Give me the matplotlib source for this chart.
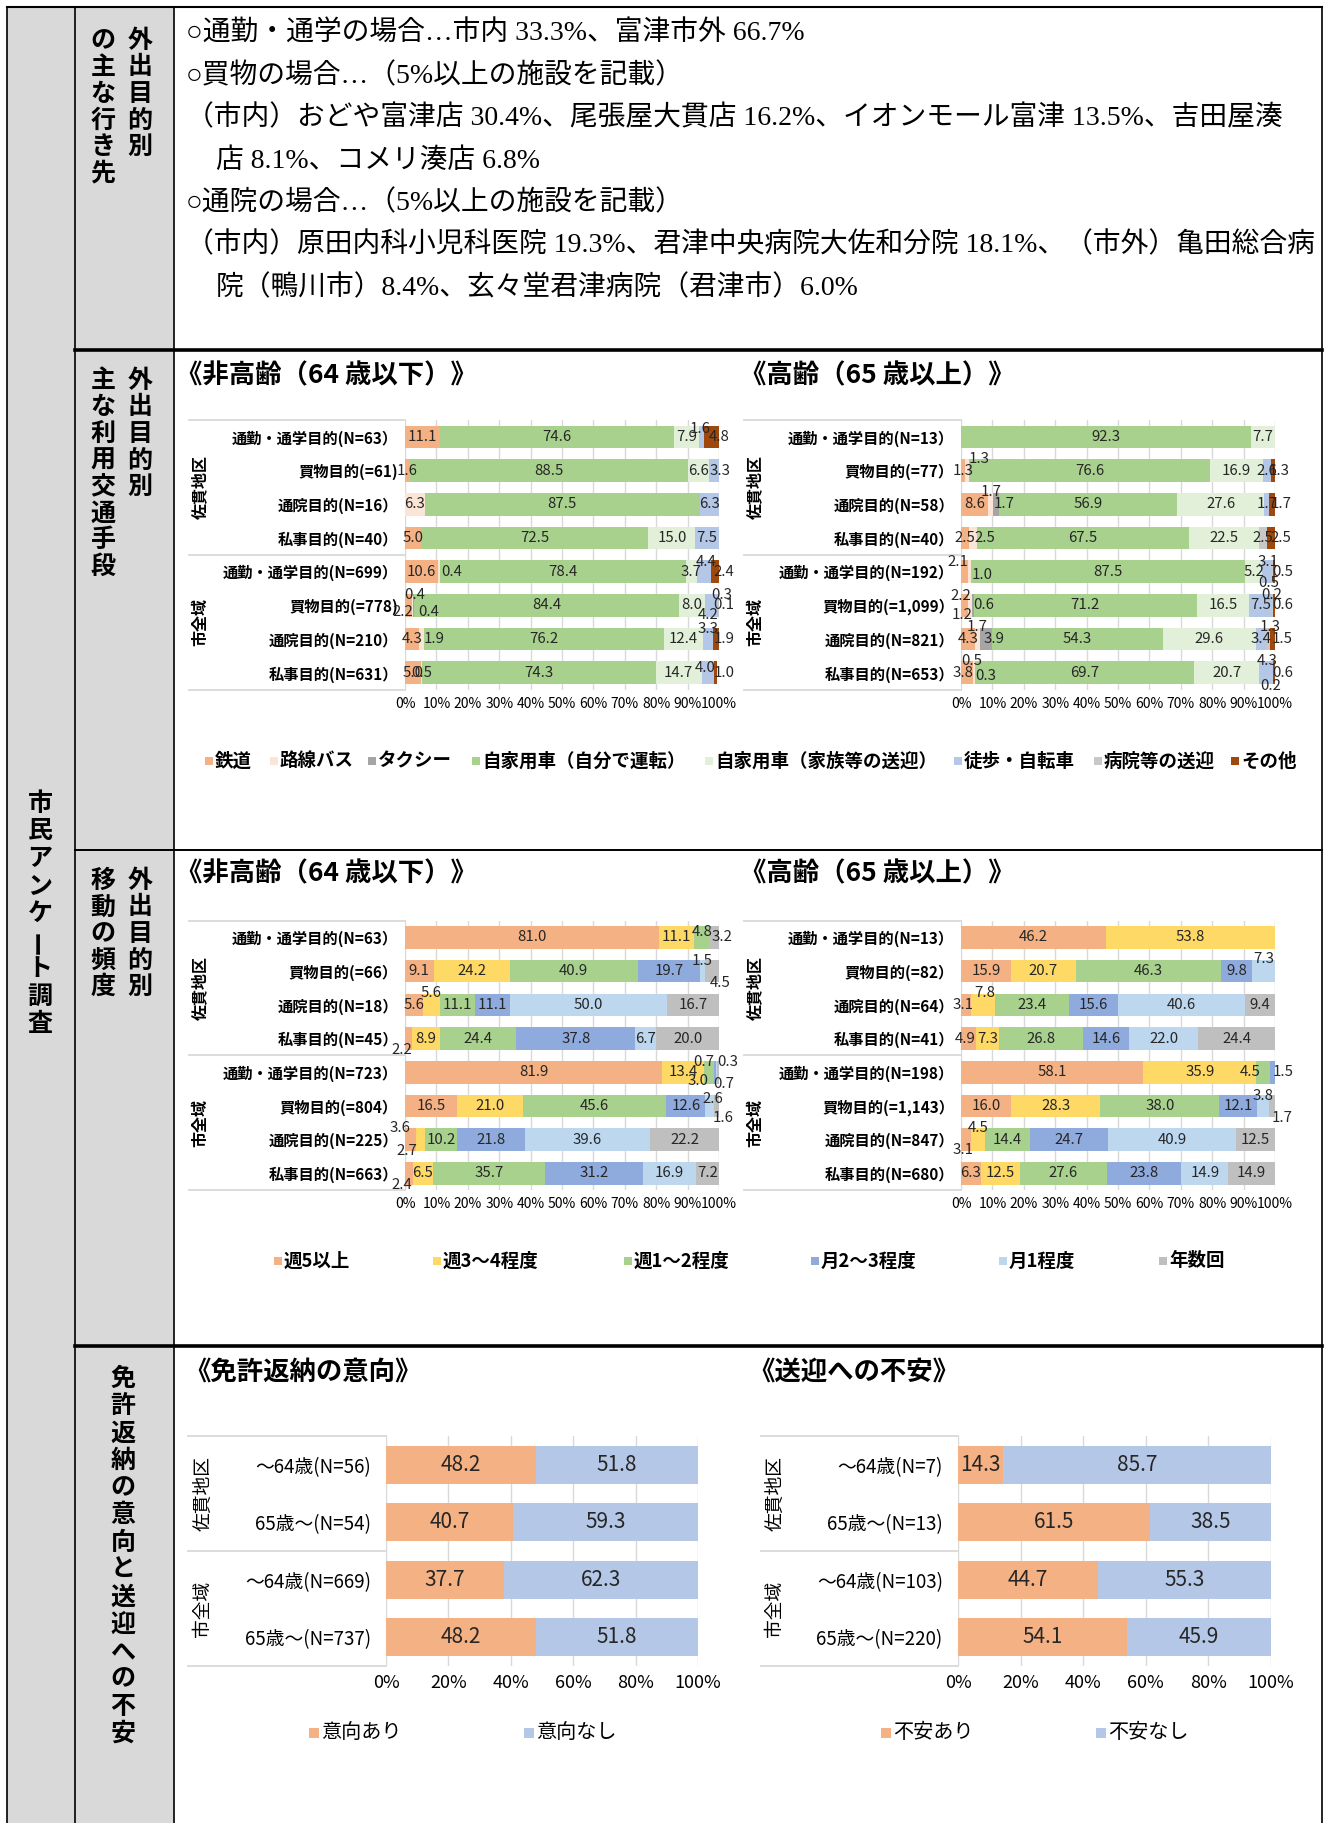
import numpy as np
import matplotlib.pyplot as plt
from matplotlib.patches import Rectangle
from matplotlib.transforms import blended_transform_factory

W, H = 1329, 1823
JP = ['Noto Sans CJK JP', 'DejaVu Sans']
SERIF = ['Liberation Serif', 'Noto Sans CJK JP']
plt.rcParams['font.family'] = JP

# ---------------- data ----------------
dest_lines = [
    '○通勤・通学の場合…市内 33.3%、富津市外 66.7%',
    '○買物の場合…（5%以上の施設を記載）',
    '（市内）おどや富津店 30.4%、尾張屋大貫店 16.2%、イオンモール富津 13.5%、吉田屋湊',
    '店 8.1%、コメリ湊店 6.8%',
    '○通院の場合…（5%以上の施設を記載）',
    '（市内）原田内科小児科医院 19.3%、君津中央病院大佐和分院 18.1%、（市外）亀田総合病',
    '院（鴨川市）8.4%、玄々堂君津病院（君津市）6.0%',
]
dest_indent = [0, 0, 0, 1, 0, 0, 1]

groups = ['佐貫地区', '市全域']

tr_cats = ['鉄道', '路線バス', 'タクシー', '自家用車（自分で運転）', '自家用車（家族等の送迎）',
           '徒歩・自転車', '病院等の送迎', 'その他']
tr_colors = ['#F4B183', '#FBE5D6', '#A5A5A5', '#A9D18E', '#E2F0D9', '#B4C7E7', '#C8C8C8', '#9E480E']

tr_young_labels = ['通勤・通学目的(N=63）', '買物目的(=61)', '通院目的(N=16）', '私事目的(N=40）',
                   '通勤・通学目的(N=699）', '買物目的(=778)', '通院目的(N=210）', '私事目的(N=631）']
tr_young = [
    [11.1, 0, 0, 74.6, 7.9, 1.6, 0, 4.8],
    [1.6, 0, 0, 88.5, 6.6, 3.3, 0, 0],
    [0, 6.3, 0, 87.5, 0, 6.3, 0, 0],
    [5.0, 0, 0, 72.5, 15.0, 7.5, 0, 0],
    [10.6, 0.4, 0, 78.4, 3.7, 4.4, 0, 2.4],
    [2.2, 0.4, 0.4, 84.4, 8.0, 4.2, 0.3, 0.1],
    [4.3, 1.9, 0, 76.2, 12.4, 3.3, 0, 1.9],
    [5.0, 0.5, 0, 74.3, 14.7, 4.0, 0, 1.0],
]
tr_old_labels = ['通勤・通学目的(N=13）', '買物目的(=77）', '通院目的(N=58）', '私事目的(N=40）',
                 '通勤・通学目的(N=192）', '買物目的(=1,099）', '通院目的(N=821）', '私事目的(N=653）']
tr_old = [
    [0, 0, 0, 92.3, 7.7, 0, 0, 0],
    [1.3, 1.3, 0, 76.6, 16.9, 2.6, 0, 1.3],
    [8.6, 1.7, 1.7, 56.9, 27.6, 1.7, 0, 1.7],
    [2.5, 2.5, 0, 67.5, 22.5, 0, 2.5, 2.5],
    [2.1, 1.0, 0, 87.5, 5.2, 3.1, 0.5, 0.5],
    [2.2, 1.2, 0.6, 71.2, 16.5, 7.5, 0.2, 0.6],
    [4.3, 1.7, 3.9, 54.3, 29.6, 3.4, 1.3, 1.5],
    [3.8, 0.5, 0.3, 69.7, 20.7, 4.3, 0.2, 0.6],
]

fq_cats = ['週5以上', '週3～4程度', '週1～2程度', '月2～3程度', '月1程度', '年数回']
fq_colors = ['#F4B183', '#FFD966', '#A9D18E', '#8FAADC', '#BDD7EE', '#BFBFBF']

fq_young_labels = ['通勤・通学目的(N=63）', '買物目的(=66）', '通院目的(N=18）', '私事目的(N=45）',
                   '通勤・通学目的(N=723）', '買物目的(=804）', '通院目的(N=225）', '私事目的(N=663）']
fq_young = [
    [81.0, 11.1, 4.8, 0, 0, 3.2],
    [9.1, 24.2, 40.9, 19.7, 1.5, 4.5],
    [5.6, 5.6, 11.1, 11.1, 50.0, 16.7],
    [2.2, 8.9, 24.4, 37.8, 6.7, 20.0],
    [81.9, 13.4, 3.0, 0.7, 0.3, 0.7],
    [16.5, 21.0, 45.6, 12.6, 2.6, 1.6],
    [3.6, 2.7, 10.2, 21.8, 39.6, 22.2],
    [2.4, 6.5, 35.7, 31.2, 16.9, 7.2],
]
fq_old_labels = ['通勤・通学目的(N=13）', '買物目的(=82）', '通院目的(N=64）', '私事目的(N=41）',
                 '通勤・通学目的(N=198）', '買物目的(=1,143）', '通院目的(N=847）', '私事目的(N=680）']
fq_old = [
    [46.2, 53.8, 0, 0, 0, 0],
    [15.9, 20.7, 46.3, 9.8, 7.3, 0],
    [3.1, 7.8, 23.4, 15.6, 40.6, 9.4],
    [4.9, 7.3, 26.8, 14.6, 22.0, 24.4],
    [58.1, 35.9, 4.5, 1.5, 0, 0],
    [16.0, 28.3, 38.0, 12.1, 3.8, 1.7],
    [3.1, 4.5, 14.4, 24.7, 40.9, 12.5],
    [6.3, 12.5, 27.6, 23.8, 14.9, 14.9],
]

lic_labels = ['～64歳(N=56)', '65歳～(N=54)', '～64歳(N=669)', '65歳～(N=737)']
lic_cats = ['意向あり', '意向なし']
lic_yes = [48.2, 40.7, 37.7, 48.2]
lic_no = [51.8, 59.3, 62.3, 51.8]

anx_labels = ['～64歳(N=7)', '65歳～(N=13)', '～64歳(N=103)', '65歳～(N=220)']
anx_cats = ['不安あり', '不安なし']
anx_yes = [14.3, 61.5, 44.7, 54.1]
anx_no = [85.7, 38.5, 55.3, 45.9]
lic_colors = ['#F4B183', '#B4C7E7']

# manual nudges of small data labels (row, category): (dx %, dy rows up)
tr_young_off = {
    (0, 5): (-0.4, 0.22), (0, 7): (2.4, 0), (1, 5): (2, 0),
    (4, 1): (4.2, 0), (4, 5): (0.6, 0.3), (4, 7): (2.9, 0),
    (5, 0): (-1.7, -0.2), (5, 1): (0.6, 0.3), (5, 2): (4.8, -0.2), (5, 5): (-1, -0.28),
    (5, 6): (1.2, 0.3), (5, 7): (1.5, 0),
    (6, 1): (4, 0), (6, 5): (0, 0.3), (6, 7): (2.5, 0),
    (7, 5): (-0.9, 0.15), (7, 7): (2.5, 0),
}
tr_old_off = {
    (1, 1): (3.8, 0.35), (1, 7): (2, 0),
    (2, 1): (0.3, 0.35), (2, 2): (2.7, 0), (2, 7): (3, 0),
    (3, 1): (3.7, 0), (3, 7): (3, 0),
    (4, 0): (-2, 0.3), (4, 1): (4, -0.1), (4, 5): (0.3, 0.3), (4, 6): (-1.2, -0.35), (4, 7): (2.9, 0),
    (5, 0): (-1.1, 0.28), (5, 1): (-2.5, -0.3), (5, 2): (3.5, 0), (5, 6): (-0.5, 0.3), (5, 7): (2.8, 0),
    (6, 1): (0, 0.35), (6, 2): (2.7, 0), (6, 6): (0.7, 0.35), (6, 7): (3, 0),
    (7, 0): (-1.4, 0), (7, 1): (-0.5, 0.35), (7, 2): (3.3, -0.1), (7, 5): (0.4, 0.35),
    (7, 6): (-0.8, -0.38), (7, 7): (2.8, 0),
}
fq_young_off = {
    (0, 2): (0, 0.15), (0, 5): (2.3, 0),
    (1, 4): (0, 0.3), (1, 5): (2.8, -0.35),
    (2, 1): (0, 0.35),
    (3, 0): (-2, -0.35),
    (4, 2): (-3.6, -0.25), (4, 3): (-3.5, 0.3), (4, 4): (3.5, 0.3), (4, 5): (1.8, -0.35),
    (5, 4): (1, 0.2), (5, 5): (2.2, -0.35),
    (6, 0): (-3.3, 0.35), (6, 1): (-4.5, -0.35),
    (7, 0): (-2.2, -0.35),
}
fq_old_off = {
    (1, 4): (0, 0.35),
    (2, 0): (-1, 0), (2, 1): (0.5, 0.35),
    (3, 0): (-1, 0),
    (4, 2): (-4, 0), (4, 3): (3.4, 0),
    (5, 4): (0, 0.3), (5, 5): (3.3, -0.35),
    (6, 0): (-1, -0.3), (6, 1): (0, 0.35),
}

# ---------------- figure / table ----------------
fig = plt.figure(figsize=(W / 100, H / 100), dpi=100)
bg = fig.add_axes([0, 0, 1, 1])
bg.set_xlim(0, W)
bg.set_ylim(H, 0)
bg.axis('off')

GRAY = '#D9D9D9'
bg.add_patch(Rectangle((7, 7), 167, H, fc=GRAY, ec='none'))
for x in [7, 75, 174, 1322]:
    bg.plot([x, x], [7, H], color='k', lw=1.2)
bg.plot([7, 1322], [7, 7], color='k', lw=1.5)
for y, lw in [(350, 2.6), (850, 1.4), (1346, 2.6)]:
    bg.plot([75, 1322], [y, y], color='k', lw=lw)


def vtext(x, y0, s, step, size=18):
    for i, ch in enumerate(s):
        rot = 90 if ch == 'ー' else 0
        bg.text(x, y0 + i * step, ch, ha='center', va='center', fontsize=size,
                fontweight='bold', rotation=rot)


vtext(40, 804, '市民アンケート調査', 27.5)
vtext(140, 41, '外出目的別', 26.5)
vtext(103, 41, 'の主な行き先', 26.5)
vtext(140, 381, '外出目的別', 26.5)
vtext(103, 381, '主な利用交通手段', 26.5)
vtext(140, 881, '外出目的別', 26.5)
vtext(103, 881, '移動の頻度', 26.5)
vtext(123, 1379, '免許返納の意向と送迎への不安', 27.3)

for i, (line, ind) in enumerate(zip(dest_lines, dest_indent)):
    bg.text(186 + ind * 30, 34 + i * 42.3, line, ha='left', va='center',
            fontsize=20.0, family=SERIF)

# titles
for x, y, t in [(176, 376, '《非高齢（64 歳以下）》'), (740, 376, '《高齢（65 歳以上）》'),
                (176, 874, '《非高齢（64 歳以下）》'), (740, 874, '《高齢（65 歳以上）》'),
                (184, 1372, '《免許返納の意向》'), (748, 1372, '《送迎への不安》')]:
    bg.text(x, y, t, ha='left', va='center', fontsize=19, fontweight='bold')


def px_axes(x0, y0, x1, y1):
    return fig.add_axes([x0 / W, 1 - y1 / H, (x1 - x0) / W, (y1 - y0) / H])


def chart(box, box_left, group_x, labels, data, colors, offsets, step, bar_h,
          fs_cat, fs_group, fs_val, fs_tick, bold, cat_pad, tick_pad):
    x0, y0, x1, y1 = box
    ax = px_axes(x0, y0, x1, y1)
    ax.set_facecolor('none')
    data = np.array(data, dtype=float)
    n, m = data.shape
    ypos = np.arange(n)
    left = np.zeros(n)
    for j in range(m):
        vals = data[:, j]
        ax.barh(ypos, vals, left=left, height=bar_h, color=colors[j], edgecolor='none', zorder=2)
        for i, v in enumerate(vals):
            if v > 0:
                dx, dy = offsets.get((i, j), (0, 0))
                ax.text(left[i] + v / 2 + dx, i - dy, f'{v:.1f}', ha='center', va='center',
                        fontsize=fs_val, color='#262626', zorder=4)
        left += vals
    ax.set_xlim(0, 100)
    ax.set_ylim(n - 0.5, -0.5)
    ax.set_yticks(ypos)
    ax.set_yticklabels(labels, fontsize=fs_cat, fontweight='bold' if bold else 'normal')
    ticks = np.arange(0, 101, step)
    ax.set_xticks(ticks)
    ax.set_xticklabels([f'{t}%' for t in ticks], fontsize=fs_tick)
    ax.tick_params(axis='y', length=0, pad=cat_pad)
    ax.tick_params(axis='x', length=0, pad=tick_pad)
    ax.grid(axis='x', color='#D9D9D9', lw=1.0, zorder=0)
    ax.set_axisbelow(True)
    for s in ax.spines.values():
        s.set_visible(False)
    tr = blended_transform_factory(bg.transData, ax.transData)
    for yy in [-0.5, n / 2 - 0.5, n - 0.5]:
        ax.plot([box_left, x0], [yy, yy], color='#D9D9D9', lw=1.3, transform=tr, clip_on=False)
    for g, grp in enumerate(groups):
        ax.text(group_x, (n / 2) * g + n / 4 - 0.5, grp, transform=tr, rotation=90,
                ha='center', va='center', fontsize=fs_group,
                fontweight='bold' if bold else 'normal')
    return ax


# transport / frequency (Excel style small charts)
for (box, bl, gx, labels, data, colors, off) in [
    ((405, 420, 719, 689.6), 189, 200, tr_young_labels, tr_young, tr_colors, tr_young_off),
    ((961, 420, 1275, 689.6), 744, 755, tr_old_labels, tr_old, tr_colors, tr_old_off),
    ((405, 920.6, 719, 1190.2), 189, 200, fq_young_labels, fq_young, fq_colors, fq_young_off),
    ((961, 920.6, 1275, 1190.2), 744, 755, fq_old_labels, fq_old, fq_colors, fq_old_off),
]:
    chart(box, bl, gx, labels, data, colors, off, 10, 0.67,
          fs_cat=11, fs_group=11.5, fs_val=10.8, fs_tick=10, bold=True, cat_pad=5, tick_pad=5)

# licence / anxiety
chart((386, 1436, 698, 1666), 188, 203, lic_labels, np.column_stack([lic_yes, lic_no]),
      lic_colors, {}, 20, 0.66, fs_cat=13.5, fs_group=13.5, fs_val=15, fs_tick=13,
      bold=False, cat_pad=11, tick_pad=6)
chart((958, 1436, 1271, 1666), 761, 775, anx_labels, np.column_stack([anx_yes, anx_no]),
      lic_colors, {}, 20, 0.66, fs_cat=13.5, fs_group=13.5, fs_val=15, fs_tick=13,
      bold=False, cat_pad=11, tick_pad=6)


# legends
def legend_row(cats, colors, xs, y, fs, bold, sq=8):
    for lab, c, x in zip(cats, colors, xs):
        bg.add_patch(Rectangle((x, y - sq / 2), sq, sq, fc=c, ec='none'))
        bg.text(x + sq + 2, y, lab, ha='left', va='center', fontsize=fs,
                fontweight='bold' if bold else 'normal')


legend_row(tr_cats, tr_colors, [205, 270, 368, 472, 705, 954, 1094, 1231], 761, 13.3, True)
legend_row(fq_cats, fq_colors, [274, 433, 624, 811, 999, 1159], 1261, 13.3, True)
legend_row(lic_cats, lic_colors, [309, 524], 1733, 14.5, False, sq=10)
legend_row(anx_cats, lic_colors, [881, 1096], 1733, 14.5, False, sq=10)

fig.savefig('out.png', dpi=100)
